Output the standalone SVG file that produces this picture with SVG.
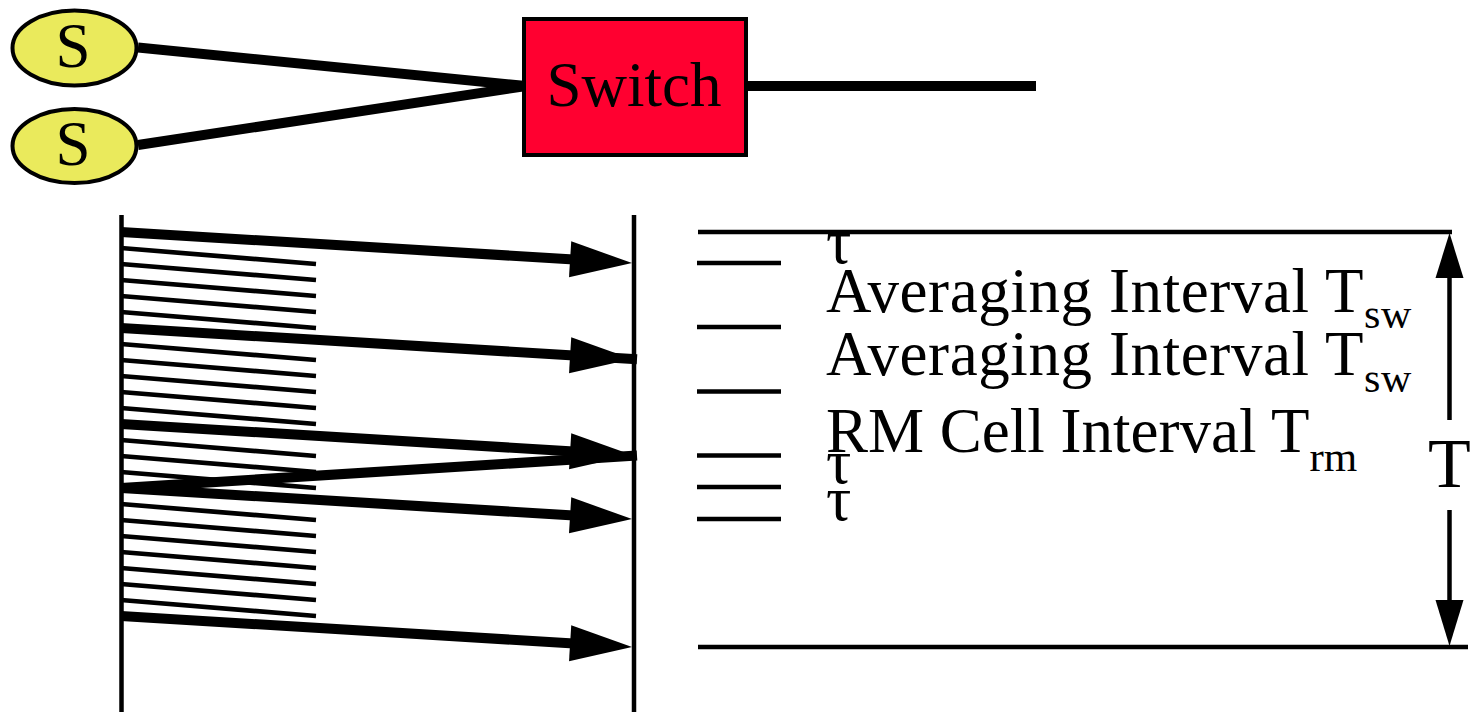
<svg xmlns="http://www.w3.org/2000/svg" width="1473" height="712" viewBox="0 0 1473 712">
  <style>
    .txt { font-family: "Liberation Serif", "Times New Roman", serif; fill: #000; }
    .thick { stroke: #000; stroke-width: 10; fill: none; stroke-linecap: butt; }
    .hatch { stroke: #000; stroke-width: 4.7; fill: none; stroke-linecap: butt; }
    .rule { stroke: #000; stroke-width: 4.5; fill: none; }
    .src { fill: #EAEA5C; stroke: #000; stroke-width: 4; }
  </style>
  <defs>
    <!-- filled arrowhead, tip sits 50 units past the end of the line -->
    <marker id="head" viewBox="0 0 62 36" markerWidth="62" markerHeight="36" refX="12" refY="18" orient="auto" markerUnits="userSpaceOnUse" overflow="visible">
      <path d="M0,0 L62,18 L0,36 Z" fill="#000"/>
    </marker>
  </defs>
  <rect width="1473" height="712" fill="#fff"/>

  <!-- links from the sources into the switch and the output link -->
  <g id="connectors">
    <line class="thick" x1="138" y1="47.5" x2="526" y2="86"/>
    <line class="thick" x1="138" y1="145" x2="526" y2="86"/>
    <line class="thick" x1="746" y1="86" x2="1036" y2="86" stroke-width="9"/>
  </g>

  <g id="source1">
    <ellipse class="src" cx="74.5" cy="48" rx="62" ry="37.5"/>
    <text class="txt" x="73" y="67" font-size="63" text-anchor="middle">S</text>
  </g>
  <g id="source2">
    <ellipse class="src" cx="74.5" cy="146" rx="62" ry="37"/>
    <text class="txt" x="73" y="165" font-size="63" text-anchor="middle">S</text>
  </g>
  <g id="switch">
    <rect x="524" y="19" width="222" height="136" fill="#FF0030" stroke="#000" stroke-width="4"/>
    <text class="txt" x="634" y="106" font-size="63" text-anchor="middle">Switch</text>
  </g>

  <!-- time lines: source side and switch side -->
  <g id="timelines">
    <line class="rule" x1="121.5" y1="215" x2="121.5" y2="712"/>
    <line class="rule" x1="634" y1="215" x2="634" y2="712"/>
  </g>

  <!-- data cells between RM cells -->
  <g id="cells">
    <line class="hatch" x1="121" y1="248" x2="316" y2="264"/>
    <line class="hatch" x1="121" y1="264" x2="316" y2="280"/>
    <line class="hatch" x1="121" y1="280" x2="316" y2="296"/>
    <line class="hatch" x1="121" y1="296" x2="316" y2="312"/>
    <line class="hatch" x1="121" y1="312" x2="316" y2="328"/>
    <line class="hatch" x1="121" y1="344" x2="316" y2="360"/>
    <line class="hatch" x1="121" y1="360" x2="316" y2="376"/>
    <line class="hatch" x1="121" y1="376" x2="316" y2="392"/>
    <line class="hatch" x1="121" y1="392" x2="316" y2="408"/>
    <line class="hatch" x1="121" y1="408" x2="316" y2="424"/>
    <line class="hatch" x1="121" y1="440" x2="316" y2="456"/>
    <line class="hatch" x1="121" y1="456" x2="316" y2="472"/>
    <line class="hatch" x1="121" y1="472" x2="316" y2="488"/>
    <line class="hatch" x1="121" y1="504" x2="316" y2="520"/>
    <line class="hatch" x1="121" y1="520" x2="316" y2="536"/>
    <line class="hatch" x1="121" y1="536" x2="316" y2="552"/>
    <line class="hatch" x1="121" y1="552" x2="316" y2="568"/>
    <line class="hatch" x1="121" y1="568" x2="316" y2="584"/>
    <line class="hatch" x1="121" y1="584" x2="316" y2="600"/>
    <line class="hatch" x1="121" y1="600" x2="316" y2="616"/>
  </g>

  <!-- RM cells reaching the switch -->
  <g id="rm-cells">
    <line class="thick" x1="121" y1="232" x2="582.1" y2="260" marker-end="url(#head)"/>
    <line class="thick" x1="121" y1="328" x2="582.1" y2="356" marker-end="url(#head)"/>
    <line class="thick" x1="608" y1="357.5" x2="637" y2="359.3"/>
    <line class="thick" x1="121" y1="424" x2="582.1" y2="452" marker-end="url(#head)"/>
    <line class="thick" x1="121" y1="488" x2="637" y2="455.5"/>
    <line class="thick" x1="121" y1="488" x2="582.1" y2="516" marker-end="url(#head)"/>
    <line class="thick" x1="121" y1="616" x2="582.1" y2="644" marker-end="url(#head)"/>
  </g>

  <!-- interval scale on the right -->
  <g id="scale">
    <line class="rule" x1="698" y1="232" x2="1452" y2="232"/>
    <line class="rule" x1="698" y1="647" x2="1468" y2="647"/>
    <line class="rule" x1="697" y1="263" x2="781" y2="263"/>
    <line class="rule" x1="697" y1="327" x2="781" y2="327"/>
    <line class="rule" x1="697" y1="391.5" x2="781" y2="391.5"/>
    <line class="rule" x1="697" y1="455.5" x2="781" y2="455.5"/>
    <line class="rule" x1="697" y1="487" x2="781" y2="487"/>
    <line class="rule" x1="697" y1="519" x2="781" y2="519"/>
  </g>

  <g id="labels">
    <text class="txt" x="826" y="263" font-size="63">τ</text>
    <text class="txt" x="826" y="312" font-size="63" letter-spacing="0.6">Averaging Interval T<tspan font-size="42" dy="16">sw</tspan></text>
    <text class="txt" x="826" y="375" font-size="63" letter-spacing="0.6">Averaging Interval T<tspan font-size="42" dy="17">sw</tspan></text>
    <text class="txt" x="826" y="452" font-size="63">RM Cell Interval T<tspan font-size="43" dy="19">rm</tspan></text>
    <text class="txt" x="826" y="483" font-size="63">τ</text>
    <text class="txt" x="826" y="520" font-size="63">τ</text>
  </g>

  <!-- overall period T -->
  <g id="period">
    <line class="rule" x1="1449.5" y1="275" x2="1449.5" y2="420"/>
    <path d="M1449.5,233 L1463.5,278 L1435.5,278 Z" fill="#000"/>
    <line class="rule" x1="1449.5" y1="510" x2="1449.5" y2="603"/>
    <path d="M1449.5,646 L1463.5,600 L1435.5,600 Z" fill="#000"/>
    <text class="txt" x="1428" y="487" font-size="70">T</text>
  </g>
</svg>
